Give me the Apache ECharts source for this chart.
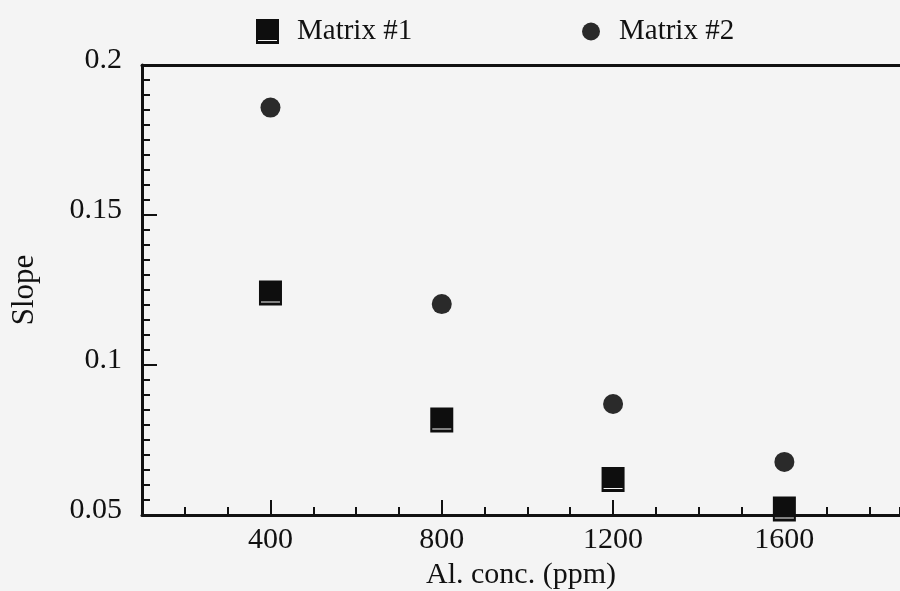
<!DOCTYPE html>
<html>
<head>
<meta charset="utf-8">
<script src="https://cdn.jsdelivr.net/npm/echarts@6/dist/echarts.min.js"></script>
<style>
  html, body { margin: 0; padding: 0; background: #f4f4f4; }
  #chart { width: 900px; height: 591px; }
</style>
</head>
<body>
<div id="chart"></div>
<script>
// values
const concentrations = [400, 800, 1200, 1600];
const matrix1 = [0.124, 0.0817, 0.0618, 0.052];
const matrix2 = [0.1858, 0.1203, 0.087, 0.0677];

const xMajorTicks = [400, 800, 1200, 1600];
const yMajorTicks = [0.05, 0.1, 0.15, 0.2];

const serif = "'Liberation Serif', 'DejaVu Serif', serif";
const ink = '#111';

// filled square with the thin light stripe near its base, like the scan
const squarePath = 'path://M0,0 L23,0 L23,25 L0,25 Z M2,21 L2,22 L21,22 L21,21 Z';

const toPairs = (xs, ys) => xs.map((x, i) => [x, ys[i]]);

const chart = echarts.init(document.getElementById('chart'));

const xRange = { min: 100, max: 1870 };
const yRange = { min: 0.05, max: 0.2 };

chart.setOption({
  backgroundColor: '#f4f4f4',
  animation: false,
  grid: { left: 142, right: 0, top: 65, bottom: 76, outerBoundsMode: 'none', containLabel: false },
  legend: [
    {
      data: ['Matrix #1'],
      left: 256, top: 17, padding: 0,
      itemWidth: 23, itemHeight: 26,
      textStyle: { fontFamily: serif, fontSize: 29, color: ink, padding: [0, 0, 0, 13] }
    },
    {
      data: ['Matrix #2'],
      left: 582, top: 17, padding: 0,
      itemWidth: 18, itemHeight: 18,
      textStyle: { fontFamily: serif, fontSize: 29, color: ink, padding: [0, 0, 0, 14] }
    }
  ],
  xAxis: [
    {
      type: 'value', position: 'bottom', ...xRange, interval: 100,
      axisLine: { lineStyle: { color: ink, width: 3 } },
      axisTick: { inside: true, length: 8, lineStyle: { color: ink, width: 2 } },
      axisLabel: {
        customValues: xMajorTicks, margin: 10,
        fontFamily: serif, fontSize: 30, color: ink,
        formatter: v => String(v)
      },
      splitLine: { show: false },
      name: 'Al. conc. (ppm)', nameLocation: 'middle', nameGap: 45,
      nameTextStyle: { fontFamily: serif, fontSize: 30, color: ink }
    },
    {
      type: 'value', position: 'bottom', ...xRange,
      axisLine: { show: false },
      axisTick: { inside: true, length: 15, customValues: xMajorTicks, lineStyle: { color: ink, width: 2 } },
      axisLabel: { show: false },
      splitLine: { show: false }
    },
    {
      type: 'value', position: 'top', ...xRange,
      axisLine: { lineStyle: { color: ink, width: 3 } },
      axisTick: { show: false },
      axisLabel: { show: false },
      splitLine: { show: false }
    }
  ],
  yAxis: [
    {
      type: 'value', position: 'left', ...yRange, interval: 0.005,
      axisLine: { lineStyle: { color: ink, width: 3 } },
      axisTick: { inside: true, length: 8, lineStyle: { color: ink, width: 2 } },
      axisLabel: {
        customValues: yMajorTicks, margin: 20,
        fontFamily: serif, fontSize: 30, color: ink,
        verticalAlign: 'bottom', lineHeight: 10,
        formatter: v => String(+v.toFixed(3))
      },
      splitLine: { show: false },
      name: 'Slope', nameLocation: 'middle', nameGap: 102, nameRotate: 90,
      nameTextStyle: { fontFamily: serif, fontSize: 31, color: ink }
    },
    {
      type: 'value', position: 'left', ...yRange,
      axisLine: { show: false },
      axisTick: { inside: true, length: 15, customValues: yMajorTicks, lineStyle: { color: ink, width: 2 } },
      axisLabel: { show: false },
      splitLine: { show: false }
    }
  ],
  series: [
    {
      name: 'Matrix #1', type: 'scatter',
      xAxisIndex: 0, yAxisIndex: 0,
      symbol: squarePath, symbolSize: [23, 25],
      itemStyle: { color: '#0e0e0e', opacity: 1 },
      data: toPairs(concentrations, matrix1)
    },
    {
      name: 'Matrix #2', type: 'scatter',
      xAxisIndex: 0, yAxisIndex: 0,
      symbol: 'circle', symbolSize: 20,
      itemStyle: { color: '#2a2a2a', opacity: 1 },
      data: toPairs(concentrations, matrix2)
    }
  ]
});
</script>
</body>
</html>
